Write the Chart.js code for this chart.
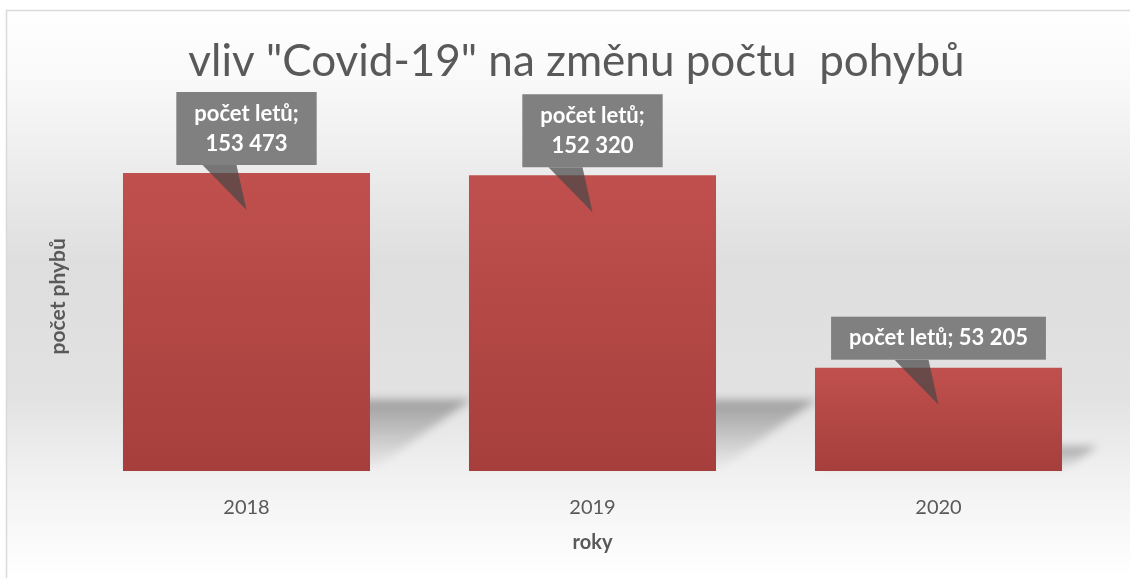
<!DOCTYPE html>
<html>
<head>
<meta charset="utf-8">
<script src="https://cdn.jsdelivr.net/npm/chart.js@4/dist/chart.umd.min.js"></script>
<style>
  html, body { margin: 0; padding: 0; background: #fff; }
  #wrap { width: 1130px; height: 578px; }
</style>
</head>
<body>
<div id="wrap"><canvas id="chart" width="1130" height="578"></canvas></div>
<script>
// data
const years = ["2018", "2019", "2020"]
const flights = [153473, 152320, 53205]
const seriesName = "počet letů"
const chartTitle = 'vliv "Covid-19" na změnu počtu  pohybů'
const xTitle = "roky"
const yTitle = "počet phybů"
const yMax = 180000

const FONT = "Lato, 'Open Sans', sans-serif"
const TEXT = "#595959"

function fmt(v){
    return String(v).replace(/\B(?=(\d{3})+(?!\d))/g, " ")
}

// page background: soft grey band in the middle, light frame top/left
const backdrop = {
    id: "backdrop",
    beforeDraw(chart){
        const ctx = chart.ctx
        const W = chart.width, H = chart.height
        ctx.save()
        ctx.fillStyle = "#ffffff"
        ctx.fillRect(0, 0, W, H)
        const g = ctx.createLinearGradient(0, 11, 0, H)
        g.addColorStop(0, "#ffffff")
        g.addColorStop(0.12, "#f9f9f9")
        g.addColorStop(0.45, "#dedede")
        g.addColorStop(0.68, "#e2e2e2")
        g.addColorStop(0.82, "#f1f1f1")
        g.addColorStop(1, "#ffffff")
        ctx.fillStyle = g
        ctx.fillRect(7, 11, W - 7, H - 11)
        ctx.strokeStyle = "#d9d9d9"
        ctx.lineWidth = 1.5
        ctx.beginPath()
        ctx.moveTo(6.5, H)
        ctx.lineTo(6.5, 10.5)
        ctx.lineTo(W, 10.5)
        ctx.stroke()
        ctx.restore()
    }
}

// perspective shadow falling to the right of each bar
const barShadows = {
    id: "barShadows",
    beforeDatasetsDraw(chart){
        const ctx = chart.ctx
        const meta = chart.getDatasetMeta(0)
        ctx.save()
        ctx.filter = "blur(4px)"
        for(const bar of meta.data){
            const h = bar.base - bar.y
            const left = bar.x - bar.width / 2
            const right = bar.x + bar.width / 2
            const rise = h * 0.24
            const shift = h * 0.34
            const g = ctx.createLinearGradient(0, bar.base - rise, 0, bar.base)
            g.addColorStop(0, "rgba(0,0,0,0.3)")
            g.addColorStop(0.6, "rgba(0,0,0,0.12)")
            g.addColorStop(1, "rgba(0,0,0,0.0)")
            ctx.fillStyle = g
            ctx.beginPath()
            ctx.moveTo(left, bar.base)
            ctx.lineTo(right, bar.base)
            ctx.lineTo(right + shift, bar.base - rise)
            ctx.lineTo(left + shift, bar.base - rise)
            ctx.closePath()
            ctx.fill()
        }
        ctx.restore()
    }
}

// grey callout boxes with a pointer into the bar
const callouts = {
    id: "callouts",
    afterDatasetsDraw(chart, args, opts){
        const ctx = chart.ctx
        const meta = chart.getDatasetMeta(0)
        const values = chart.data.datasets[0].data
        ctx.save()
        ctx.font = "bold 22px " + FONT
        meta.data.forEach((bar, i) => {
            const num = fmt(values[i])
            const lines = opts.split[i] ? [seriesName + ";", num] : [seriesName + "; " + num]
            const padX = 18, padY = 6.5, lh = 30
            const w = Math.max(...lines.map(l => ctx.measureText(l).width)) + 2 * padX
            const h = lines.length * lh + 2 * padY
            const cx = bar.x
            const bottom = bar.y - 8
            const top = bottom - h

            ctx.fillStyle = "rgba(72,72,72,0.72)"
            ctx.beginPath()
            ctx.moveTo(cx - 44, bottom)
            ctx.lineTo(cx - 10, bottom)
            ctx.lineTo(cx, bar.y + 37)
            ctx.closePath()
            ctx.fill()

            ctx.fillStyle = "#808080"
            ctx.fillRect(cx - w / 2, top, w, h)

            ctx.fillStyle = "#ffffff"
            ctx.textAlign = "center"
            ctx.textBaseline = "middle"
            lines.forEach((l, k) => ctx.fillText(l, cx, top + padY + lh * (k + 0.5)))
        })
        ctx.restore()
    }
}

const chart = new Chart(document.getElementById("chart"), {
    type: "bar",
    data: {
        labels: years,
        datasets: [{
            label: seriesName,
            data: flights,
            backgroundColor: c => {
                const ys = c.chart.scales.y
                if(!ys || !c.chart.chartArea) return "#c0504d"
                const top = ys.getPixelForValue(c.raw)
                const base = ys.getPixelForValue(0)
                const g = c.chart.ctx.createLinearGradient(0, top, 0, base)
                g.addColorStop(0, "#c0504d")
                g.addColorStop(1, "#a63f3c")
                return g
            },
            borderWidth: 0,
            categoryPercentage: 1,
            barPercentage: 0.714
        }]
    },
    options: {
        responsive: false,
        animation: false,
        devicePixelRatio: 1,
        layout: { padding: { left: 41.4, right: 18.5, top: 0, bottom: 19 } },
        plugins: {
            legend: { display: false },
            tooltip: { enabled: false },
            title: {
                display: true,
                text: chartTitle,
                color: TEXT,
                font: { family: FONT, size: 44, weight: "normal", lineHeight: 1.2 },
                padding: { top: 35.6, bottom: 33.1 }
            },
            callouts: { split: [true, true, false] }
        },
        scales: {
            x: {
                grid: { display: false },
                border: { display: false },
                ticks: { color: TEXT, font: { family: FONT, size: 20 }, padding: 17 },
                title: { display: true, text: xTitle, color: TEXT, font: { family: FONT, size: 20, weight: "bold" } },
                afterFit: s => { s.height = 88 }
            },
            y: {
                min: 0,
                max: yMax,
                grid: { display: false },
                border: { display: false },
                ticks: { display: false },
                title: { display: true, text: yTitle, color: TEXT, font: { family: FONT, size: 21, weight: "bold" } },
                afterFit: s => { s.width = 73.5 - 41.4 }
            }
        }
    },
    plugins: [backdrop, barShadows, callouts]
})
</script>
</body>
</html>
